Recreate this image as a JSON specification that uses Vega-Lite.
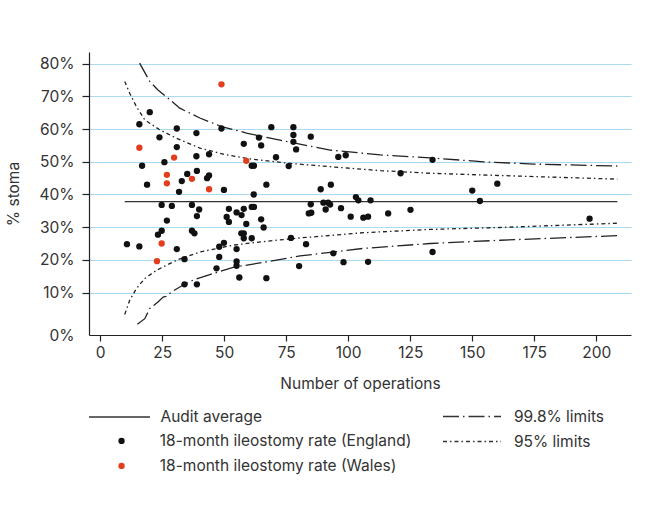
{
  "$schema": "https://vega.github.io/schema/vega-lite/v6.json",
  "autosize": {"type": "none"},
  "padding": {"left": 89, "top": 52, "right": 18, "bottom": 173},
  "width": 542,
  "height": 283,
  "background": "white",
  "datasets": {
    "avg": [
      {"n": 9.9, "v": 37.8, "series": "Audit average"},
      {"n": 208.5, "v": 37.8, "series": "Audit average"}
    ],
    "limits": [
      {"n": 15.9, "v": 80.2, "limit": "99.8% limits", "side": "upper"},
      {"n": 20.0, "v": 74.6, "limit": "99.8% limits", "side": "upper"},
      {"n": 23.3, "v": 72.0, "limit": "99.8% limits", "side": "upper"},
      {"n": 28.1, "v": 69.0, "limit": "99.8% limits", "side": "upper"},
      {"n": 32.1, "v": 66.4, "limit": "99.8% limits", "side": "upper"},
      {"n": 40.2, "v": 63.4, "limit": "99.8% limits", "side": "upper"},
      {"n": 48.9, "v": 60.8, "limit": "99.8% limits", "side": "upper"},
      {"n": 59.0, "v": 58.8, "limit": "99.8% limits", "side": "upper"},
      {"n": 72.5, "v": 56.6, "limit": "99.8% limits", "side": "upper"},
      {"n": 92.7, "v": 53.6, "limit": "99.8% limits", "side": "upper"},
      {"n": 112.9, "v": 52.1, "limit": "99.8% limits", "side": "upper"},
      {"n": 133.0, "v": 51.2, "limit": "99.8% limits", "side": "upper"},
      {"n": 154.6, "v": 50.0, "limit": "99.8% limits", "side": "upper"},
      {"n": 174.8, "v": 49.3, "limit": "99.8% limits", "side": "upper"},
      {"n": 208.5, "v": 48.7, "limit": "99.8% limits", "side": "upper"},
      {"n": 15.0, "v": 0.3, "limit": "99.8% limits", "side": "lower"},
      {"n": 18.0, "v": 2.0, "limit": "99.8% limits", "side": "lower"},
      {"n": 20.0, "v": 5.1, "limit": "99.8% limits", "side": "lower"},
      {"n": 23.3, "v": 7.1, "limit": "99.8% limits", "side": "lower"},
      {"n": 25.4, "v": 8.6, "limit": "99.8% limits", "side": "lower"},
      {"n": 26.5, "v": 8.8, "limit": "99.8% limits", "side": "lower"},
      {"n": 28.8, "v": 10.2, "limit": "99.8% limits", "side": "lower"},
      {"n": 32.1, "v": 11.7, "limit": "99.8% limits", "side": "lower"},
      {"n": 37.5, "v": 13.8, "limit": "99.8% limits", "side": "lower"},
      {"n": 44.2, "v": 15.5, "limit": "99.8% limits", "side": "lower"},
      {"n": 53.6, "v": 17.7, "limit": "99.8% limits", "side": "lower"},
      {"n": 67.1, "v": 19.4, "limit": "99.8% limits", "side": "lower"},
      {"n": 80.6, "v": 21.2, "limit": "99.8% limits", "side": "lower"},
      {"n": 106.1, "v": 23.5, "limit": "99.8% limits", "side": "lower"},
      {"n": 133.0, "v": 25.0, "limit": "99.8% limits", "side": "lower"},
      {"n": 161.3, "v": 26.0, "limit": "99.8% limits", "side": "lower"},
      {"n": 208.5, "v": 27.4, "limit": "99.8% limits", "side": "lower"},
      {"n": 9.9, "v": 74.6, "limit": "95% limits", "side": "upper"},
      {"n": 11.9, "v": 71.0, "limit": "95% limits", "side": "upper"},
      {"n": 14.6, "v": 66.9, "limit": "95% limits", "side": "upper"},
      {"n": 18.0, "v": 62.8, "limit": "95% limits", "side": "upper"},
      {"n": 24.0, "v": 59.8, "limit": "95% limits", "side": "upper"},
      {"n": 30.8, "v": 57.2, "limit": "95% limits", "side": "upper"},
      {"n": 40.2, "v": 54.2, "limit": "95% limits", "side": "upper"},
      {"n": 51.0, "v": 52.1, "limit": "95% limits", "side": "upper"},
      {"n": 60.4, "v": 50.9, "limit": "95% limits", "side": "upper"},
      {"n": 75.2, "v": 49.6, "limit": "95% limits", "side": "upper"},
      {"n": 92.7, "v": 48.5, "limit": "95% limits", "side": "upper"},
      {"n": 112.9, "v": 47.3, "limit": "95% limits", "side": "upper"},
      {"n": 133.0, "v": 46.5, "limit": "95% limits", "side": "upper"},
      {"n": 161.3, "v": 45.8, "limit": "95% limits", "side": "upper"},
      {"n": 208.5, "v": 44.7, "limit": "95% limits", "side": "upper"},
      {"n": 9.9, "v": 3.3, "limit": "95% limits", "side": "lower"},
      {"n": 11.9, "v": 7.6, "limit": "95% limits", "side": "lower"},
      {"n": 14.6, "v": 11.2, "limit": "95% limits", "side": "lower"},
      {"n": 18.0, "v": 14.3, "limit": "95% limits", "side": "lower"},
      {"n": 22.7, "v": 16.8, "limit": "95% limits", "side": "lower"},
      {"n": 30.8, "v": 19.9, "limit": "95% limits", "side": "lower"},
      {"n": 40.2, "v": 22.4, "limit": "95% limits", "side": "lower"},
      {"n": 53.6, "v": 24.5, "limit": "95% limits", "side": "lower"},
      {"n": 67.1, "v": 25.7, "limit": "95% limits", "side": "lower"},
      {"n": 80.6, "v": 26.7, "limit": "95% limits", "side": "lower"},
      {"n": 106.1, "v": 28.3, "limit": "95% limits", "side": "lower"},
      {"n": 133.0, "v": 29.3, "limit": "95% limits", "side": "lower"},
      {"n": 161.3, "v": 29.9, "limit": "95% limits", "side": "lower"},
      {"n": 208.5, "v": 31.2, "limit": "95% limits", "side": "lower"}
    ],
    "points": [
      {"n": 20.0, "v": 65.2, "nation": "18-month ileostomy rate (England)"},
      {"n": 15.8, "v": 61.5, "nation": "18-month ileostomy rate (England)"},
      {"n": 30.9, "v": 60.2, "nation": "18-month ileostomy rate (England)"},
      {"n": 48.9, "v": 60.2, "nation": "18-month ileostomy rate (England)"},
      {"n": 69.0, "v": 60.6, "nation": "18-month ileostomy rate (England)"},
      {"n": 77.9, "v": 60.6, "nation": "18-month ileostomy rate (England)"},
      {"n": 77.9, "v": 58.2, "nation": "18-month ileostomy rate (England)"},
      {"n": 77.9, "v": 56.1, "nation": "18-month ileostomy rate (England)"},
      {"n": 79.0, "v": 53.8, "nation": "18-month ileostomy rate (England)"},
      {"n": 38.8, "v": 58.8, "nation": "18-month ileostomy rate (England)"},
      {"n": 23.9, "v": 57.5, "nation": "18-month ileostomy rate (England)"},
      {"n": 30.9, "v": 54.5, "nation": "18-month ileostomy rate (England)"},
      {"n": 57.9, "v": 55.5, "nation": "18-month ileostomy rate (England)"},
      {"n": 64.0, "v": 57.4, "nation": "18-month ileostomy rate (England)"},
      {"n": 64.9, "v": 55.0, "nation": "18-month ileostomy rate (England)"},
      {"n": 38.8, "v": 51.7, "nation": "18-month ileostomy rate (England)"},
      {"n": 43.9, "v": 52.3, "nation": "18-month ileostomy rate (England)"},
      {"n": 70.9, "v": 51.4, "nation": "18-month ileostomy rate (England)"},
      {"n": 76.0, "v": 48.7, "nation": "18-month ileostomy rate (England)"},
      {"n": 61.1, "v": 48.8, "nation": "18-month ileostomy rate (England)"},
      {"n": 62.0, "v": 48.8, "nation": "18-month ileostomy rate (England)"},
      {"n": 16.9, "v": 48.8, "nation": "18-month ileostomy rate (England)"},
      {"n": 25.9, "v": 49.9, "nation": "18-month ileostomy rate (England)"},
      {"n": 18.9, "v": 43.0, "nation": "18-month ileostomy rate (England)"},
      {"n": 35.1, "v": 46.3, "nation": "18-month ileostomy rate (England)"},
      {"n": 32.9, "v": 44.1, "nation": "18-month ileostomy rate (England)"},
      {"n": 39.0, "v": 47.2, "nation": "18-month ileostomy rate (England)"},
      {"n": 43.1, "v": 45.0, "nation": "18-month ileostomy rate (England)"},
      {"n": 43.9, "v": 45.8, "nation": "18-month ileostomy rate (England)"},
      {"n": 31.8, "v": 40.8, "nation": "18-month ileostomy rate (England)"},
      {"n": 49.9, "v": 41.4, "nation": "18-month ileostomy rate (England)"},
      {"n": 61.9, "v": 40.0, "nation": "18-month ileostomy rate (England)"},
      {"n": 67.0, "v": 43.0, "nation": "18-month ileostomy rate (England)"},
      {"n": 24.8, "v": 36.8, "nation": "18-month ileostomy rate (England)"},
      {"n": 28.9, "v": 36.5, "nation": "18-month ileostomy rate (England)"},
      {"n": 37.0, "v": 36.8, "nation": "18-month ileostomy rate (England)"},
      {"n": 39.9, "v": 35.4, "nation": "18-month ileostomy rate (England)"},
      {"n": 39.0, "v": 33.4, "nation": "18-month ileostomy rate (England)"},
      {"n": 26.9, "v": 32.0, "nation": "18-month ileostomy rate (England)"},
      {"n": 24.8, "v": 28.9, "nation": "18-month ileostomy rate (England)"},
      {"n": 23.3, "v": 27.7, "nation": "18-month ileostomy rate (England)"},
      {"n": 37.0, "v": 28.9, "nation": "18-month ileostomy rate (England)"},
      {"n": 38.0, "v": 28.1, "nation": "18-month ileostomy rate (England)"},
      {"n": 10.8, "v": 24.8, "nation": "18-month ileostomy rate (England)"},
      {"n": 15.8, "v": 24.1, "nation": "18-month ileostomy rate (England)"},
      {"n": 30.9, "v": 23.3, "nation": "18-month ileostomy rate (England)"},
      {"n": 34.0, "v": 20.2, "nation": "18-month ileostomy rate (England)"},
      {"n": 51.9, "v": 35.6, "nation": "18-month ileostomy rate (England)"},
      {"n": 55.0, "v": 34.5, "nation": "18-month ileostomy rate (England)"},
      {"n": 57.0, "v": 33.7, "nation": "18-month ileostomy rate (England)"},
      {"n": 57.9, "v": 35.6, "nation": "18-month ileostomy rate (England)"},
      {"n": 61.1, "v": 36.2, "nation": "18-month ileostomy rate (England)"},
      {"n": 62.0, "v": 36.2, "nation": "18-month ileostomy rate (England)"},
      {"n": 51.0, "v": 33.1, "nation": "18-month ileostomy rate (England)"},
      {"n": 51.9, "v": 31.6, "nation": "18-month ileostomy rate (England)"},
      {"n": 58.9, "v": 31.0, "nation": "18-month ileostomy rate (England)"},
      {"n": 64.9, "v": 32.4, "nation": "18-month ileostomy rate (England)"},
      {"n": 65.9, "v": 29.9, "nation": "18-month ileostomy rate (England)"},
      {"n": 56.9, "v": 28.1, "nation": "18-month ileostomy rate (England)"},
      {"n": 57.9, "v": 28.1, "nation": "18-month ileostomy rate (England)"},
      {"n": 57.9, "v": 26.6, "nation": "18-month ileostomy rate (England)"},
      {"n": 61.1, "v": 26.6, "nation": "18-month ileostomy rate (England)"},
      {"n": 76.9, "v": 26.7, "nation": "18-month ileostomy rate (England)"},
      {"n": 49.9, "v": 25.2, "nation": "18-month ileostomy rate (England)"},
      {"n": 48.0, "v": 24.0, "nation": "18-month ileostomy rate (England)"},
      {"n": 55.0, "v": 23.3, "nation": "18-month ileostomy rate (England)"},
      {"n": 48.0, "v": 20.9, "nation": "18-month ileostomy rate (England)"},
      {"n": 55.0, "v": 19.5, "nation": "18-month ileostomy rate (England)"},
      {"n": 55.0, "v": 18.2, "nation": "18-month ileostomy rate (England)"},
      {"n": 46.9, "v": 17.4, "nation": "18-month ileostomy rate (England)"},
      {"n": 80.2, "v": 18.1, "nation": "18-month ileostomy rate (England)"},
      {"n": 56.1, "v": 14.6, "nation": "18-month ileostomy rate (England)"},
      {"n": 67.0, "v": 14.4, "nation": "18-month ileostomy rate (England)"},
      {"n": 34.0, "v": 12.5, "nation": "18-month ileostomy rate (England)"},
      {"n": 39.0, "v": 12.5, "nation": "18-month ileostomy rate (England)"},
      {"n": 84.9, "v": 57.7, "nation": "18-month ileostomy rate (England)"},
      {"n": 96.0, "v": 51.5, "nation": "18-month ileostomy rate (England)"},
      {"n": 99.0, "v": 52.0, "nation": "18-month ileostomy rate (England)"},
      {"n": 121.1, "v": 46.5, "nation": "18-month ileostomy rate (England)"},
      {"n": 88.9, "v": 41.6, "nation": "18-month ileostomy rate (England)"},
      {"n": 93.0, "v": 43.0, "nation": "18-month ileostomy rate (England)"},
      {"n": 103.1, "v": 39.2, "nation": "18-month ileostomy rate (England)"},
      {"n": 104.1, "v": 38.2, "nation": "18-month ileostomy rate (England)"},
      {"n": 109.0, "v": 38.2, "nation": "18-month ileostomy rate (England)"},
      {"n": 84.9, "v": 37.0, "nation": "18-month ileostomy rate (England)"},
      {"n": 84.1, "v": 34.2, "nation": "18-month ileostomy rate (England)"},
      {"n": 85.1, "v": 34.4, "nation": "18-month ileostomy rate (England)"},
      {"n": 90.0, "v": 37.5, "nation": "18-month ileostomy rate (England)"},
      {"n": 91.9, "v": 37.5, "nation": "18-month ileostomy rate (England)"},
      {"n": 92.7, "v": 36.9, "nation": "18-month ileostomy rate (England)"},
      {"n": 90.9, "v": 35.4, "nation": "18-month ileostomy rate (England)"},
      {"n": 97.1, "v": 35.8, "nation": "18-month ileostomy rate (England)"},
      {"n": 101.0, "v": 33.2, "nation": "18-month ileostomy rate (England)"},
      {"n": 106.1, "v": 32.9, "nation": "18-month ileostomy rate (England)"},
      {"n": 108.0, "v": 33.2, "nation": "18-month ileostomy rate (England)"},
      {"n": 116.1, "v": 34.2, "nation": "18-month ileostomy rate (England)"},
      {"n": 125.1, "v": 35.3, "nation": "18-month ileostomy rate (England)"},
      {"n": 83.0, "v": 24.8, "nation": "18-month ileostomy rate (England)"},
      {"n": 94.0, "v": 22.0, "nation": "18-month ileostomy rate (England)"},
      {"n": 98.1, "v": 19.3, "nation": "18-month ileostomy rate (England)"},
      {"n": 108.0, "v": 19.4, "nation": "18-month ileostomy rate (England)"},
      {"n": 134.0, "v": 50.6, "nation": "18-month ileostomy rate (England)"},
      {"n": 150.0, "v": 41.2, "nation": "18-month ileostomy rate (England)"},
      {"n": 160.1, "v": 43.3, "nation": "18-month ileostomy rate (England)"},
      {"n": 153.1, "v": 38.0, "nation": "18-month ileostomy rate (England)"},
      {"n": 197.3, "v": 32.6, "nation": "18-month ileostomy rate (England)"},
      {"n": 134.0, "v": 22.4, "nation": "18-month ileostomy rate (England)"},
      {"n": 48.9, "v": 73.7, "nation": "18-month ileostomy rate (Wales)"},
      {"n": 15.8, "v": 54.3, "nation": "18-month ileostomy rate (Wales)"},
      {"n": 29.8, "v": 51.3, "nation": "18-month ileostomy rate (Wales)"},
      {"n": 58.9, "v": 50.3, "nation": "18-month ileostomy rate (Wales)"},
      {"n": 26.9, "v": 46.0, "nation": "18-month ileostomy rate (Wales)"},
      {"n": 26.9, "v": 43.4, "nation": "18-month ileostomy rate (Wales)"},
      {"n": 37.0, "v": 44.8, "nation": "18-month ileostomy rate (Wales)"},
      {"n": 43.9, "v": 41.6, "nation": "18-month ileostomy rate (Wales)"},
      {"n": 24.8, "v": 25.0, "nation": "18-month ileostomy rate (Wales)"},
      {"n": 22.9, "v": 19.6, "nation": "18-month ileostomy rate (Wales)"}
    ]
  },
  "encoding": {
    "x": {
      "field": "n", "type": "quantitative",
      "scale": {"domain": [-4.5, 214], "nice": false, "zero": false},
      "axis": {
        "title": "Number of operations",
        "values": [0, 25, 50, 75, 100, 125, 150, 175, 200],
        "grid": false,
        "tickSize": 6,
        "labelPadding": 4,
        "titlePadding": 16
      }
    },
    "y": {
      "field": "v", "type": "quantitative",
      "scale": {"domain": [-3.0, 83.6], "nice": false, "zero": false},
      "axis": {
        "title": "% stoma",
        "values": [-3, 10, 20, 30, 40, 50, 60, 70, 80],
        "labelExpr": "datum.value < 0 ? '0%' : datum.value + '%'",
        "grid": true,
        "gridColor": "#aad9f2",
        "gridWidth": 1,
        "gridOpacity": {"condition": {"test": "datum.value < 0", "value": 0}, "value": 1},
        "tickOpacity": {"condition": {"test": "datum.value < 0", "value": 0}, "value": 1},
        "tickSize": 7,
        "labelPadding": 8,
        "titlePadding": 17,
        "labelOverlap": false,
        "labelBound": false
      }
    }
  },
  "layer": [
    {
      "data": {"name": "avg"},
      "mark": {"type": "line", "strokeWidth": 1.3},
      "encoding": {
        "stroke": {
          "field": "series", "type": "nominal",
          "scale": {"domain": ["Audit average"], "range": ["#333333"]},
          "legend": {
            "orient": "none", "legendX": 0, "legendY": 356.5,
            "title": null, "symbolType": "M-4,0H4", "symbolSize": 232.6,
            "symbolStrokeWidth": 1.3, "symbolOffset": 22, "labelOffset": 32.5
          }
        }
      }
    },
    {
      "data": {"name": "limits"},
      "mark": {"type": "line", "strokeWidth": 1.3, "color": "#222222"},
      "encoding": {
        "strokeDash": {
          "field": "limit", "type": "nominal",
          "scale": {"domain": ["99.8% limits", "95% limits"], "range": [[16, 4, 1.5, 4], [4, 3, 1.5, 3]]},
          "legend": {
            "orient": "none", "legendX": 354, "legendY": 356.5,
            "title": null, "symbolType": "M-4,0H4", "symbolSize": 210.25,
            "symbolStrokeColor": "#333333", "symbolStrokeWidth": 1.3,
            "symbolOffset": 21, "labelOffset": 34, "rowPadding": 8
          }
        },
        "detail": {"field": "side", "type": "nominal"}
      }
    },
    {
      "data": {"name": "points"},
      "mark": {"type": "point", "filled": true, "opacity": 1, "size": 40},
      "encoding": {
        "color": {
          "field": "nation", "type": "nominal",
          "scale": {"domain": ["18-month ileostomy rate (England)", "18-month ileostomy rate (Wales)"], "range": ["#111111", "#e23d1c"]},
          "legend": {
            "orient": "none", "legendX": 24.8, "legendY": 381.2,
            "title": null, "symbolType": "circle", "symbolSize": 40,
            "labelOffset": 30.5, "rowPadding": 8
          }
        }
      }
    }
  ],
  "config": {
    "font": "Inter",
    "view": {"stroke": null},
    "axis": {
      "labelFont": "Inter", "titleFont": "Inter",
      "labelFontSize": 15.5, "titleFontSize": 15.5,
      "labelColor": "#333333", "titleColor": "#333333",
      "titleFontWeight": "normal",
      "domainColor": "#222222", "tickColor": "#222222",
      "domainWidth": 1.2, "tickWidth": 1.2
    },
    "legend": {
      "labelFont": "Inter", "labelFontSize": 15.5, "labelColor": "#333333",
      "labelLimit": 400, "padding": 0
    }
  }
}
